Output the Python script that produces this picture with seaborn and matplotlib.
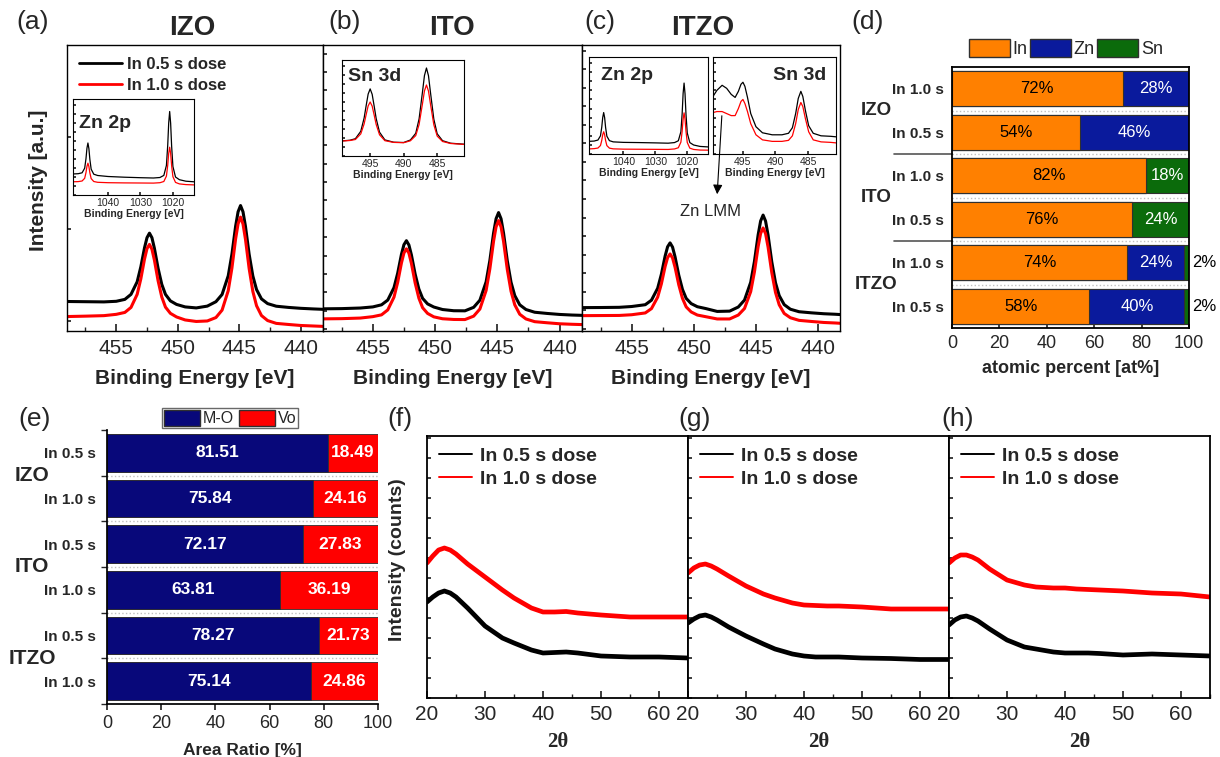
import numpy as np
import matplotlib
matplotlib.use("Agg")
import matplotlib.pyplot as plt
import matplotlib.transforms as mtransforms
from matplotlib.lines import Line2D
from matplotlib.patches import Patch
from matplotlib.ticker import MultipleLocator, NullFormatter, FixedLocator
import seaborn as sns


# XPS In 3d (a-c)

be_main = [459.0, 457.5, 456.0, 455.0, 454.3, 453.8, 453.3, 453.0, 452.7, 452.5,
           452.3, 452.1, 451.9, 451.6, 451.3, 451.0, 450.6, 450.1, 449.4, 448.5,
           447.6, 446.9, 446.4, 445.9, 445.6, 445.3, 445.1, 444.9, 444.7, 444.5,
           444.2, 443.9, 443.6, 443.2, 442.7, 442.0, 441.0, 440.0, 439.0, 438.2]
izo_05 = [27.4, 27.2, 27.0, 27.6, 29.5, 34.5, 47.0, 62.0, 81.0, 91.0,
          95.5, 91.0, 80.5, 60.5, 44.5, 34.5, 28.0, 24.5, 22.0, 21.0,
          22.8, 27.2, 34.4, 53.0, 74.6, 102.4, 116.8, 123.0, 116.8, 102.3,
          74.4, 52.8, 39.3, 30.0, 25.3, 22.7, 21.5, 20.6, 20.0, 19.6]
izo_10 = [12.4, 12.8, 13.3, 14.6, 16.5, 21.5, 34.5, 50.0, 69.8, 80.1,
          84.3, 79.5, 68.7, 48.1, 31.9, 21.8, 15.6, 12.0, 9.0, 7.5,
          8.0, 11.4, 18.8, 38.2, 60.7, 89.8, 104.8, 111.5, 104.6, 89.4,
          60.1, 37.4, 23.2, 13.4, 8.4, 5.6, 4.5, 3.5, 3.0, 2.6]
ito_05 = [20.1, 20.3, 20.9, 22.0, 24.1, 28.8, 41.2, 55.7, 74.4, 84.0,
          88.0, 83.7, 73.8, 54.7, 39.8, 30.5, 25.0, 21.9, 19.4, 18.2,
          18.1, 21.6, 28.7, 47.0, 68.3, 95.7, 109.9, 116.0, 109.8, 95.5,
          68.0, 46.6, 33.3, 24.1, 19.4, 16.7, 15.5, 14.5, 13.9, 13.6]
ito_10 = [10.1, 10.3, 10.9, 12.3, 14.1, 19.0, 31.7, 46.6, 65.8, 75.7,
          79.9, 75.5, 65.4, 45.9, 30.7, 21.2, 15.5, 12.1, 10.2, 9.5,
          9.4, 12.8, 19.9, 38.4, 59.9, 87.6, 101.9, 108.0, 101.7, 87.2,
          59.3, 37.6, 24.1, 14.7, 10.0, 7.3, 6.2, 5.2, 4.7, 4.4]

be_itzo = [459.0, 457.5, 456.0, 455.0, 453.9, 453.4, 452.9, 452.6, 452.3, 452.1,
           451.9, 451.7, 451.5, 451.2, 450.9, 450.6, 450.2, 449.7, 449.0, 448.1,
           447.1, 446.4, 445.9, 445.4, 445.1, 444.8, 444.6, 444.4, 444.2, 444.0,
           443.7, 443.4, 443.1, 442.7, 442.2, 441.5, 440.5, 439.5, 438.6, 438.2]
itzo_05 = [21.3, 21.4, 21.6, 22.4, 24.2, 28.7, 40.6, 54.6, 72.6, 81.9,
           85.8, 81.6, 72.0, 53.7, 39.4, 30.5, 25.3, 22.2, 20.3, 17.5,
           17.8, 21.9, 28.8, 46.5, 67.2, 93.8, 107.6, 113.5, 107.5, 93.6,
           66.9, 46.1, 33.2, 24.3, 19.7, 17.2, 16.1, 15.2, 14.7, 14.4]
itzo_10 = [13.3, 13.4, 13.5, 14.2, 16.0, 20.3, 31.7, 45.0, 62.2, 71.1,
           74.8, 70.8, 61.6, 44.1, 30.5, 22.0, 17.0, 13.9, 12.2, 10.0,
           10.0, 13.9, 20.4, 37.2, 56.8, 82.1, 95.2, 100.7, 95.0, 81.7,
           56.2, 36.4, 24.1, 15.5, 11.2, 8.6, 7.5, 6.5, 6.0, 5.7]

# insets: Zn 2p / Sn 3d

be_zn = [1051.0, 1049.2, 1048.0, 1047.2, 1046.8, 1046.5, 1046.2, 1045.9, 1045.6, 1045.2,
         1044.4, 1043.2, 1040.0, 1035.0, 1030.0, 1026.0, 1024.0, 1022.8, 1022.0, 1021.6,
         1021.3, 1021.0, 1020.7, 1020.4, 1020.0, 1019.2, 1018.0, 1016.0, 1013.5]
zn_izo_05 = [21.0, 21.3, 22.2, 26.8, 36.3, 46.8, 52.0, 46.4, 35.6, 25.8,
             20.8, 19.5, 18.5, 17.8, 17.3, 17.0, 17.5, 19.6, 29.6, 49.8,
             72.0, 83.5, 71.7, 49.1, 28.5, 18.0, 15.3, 13.8, 13.2]
zn_izo_10 = [13.2, 13.4, 14.0, 16.7, 22.4, 28.6, 31.8, 28.5, 22.2, 16.4,
             13.5, 12.7, 12.3, 12.1, 12.0, 11.9, 12.3, 13.5, 18.9, 29.8,
             41.7, 47.8, 41.5, 29.4, 18.3, 12.6, 11.1, 10.4, 10.1]
zn_itzo_05 = [12.5, 12.8, 13.8, 18.0, 26.6, 36.1, 41.0, 36.0, 26.3, 17.6,
              13.2, 12.0, 11.5, 11.3, 11.0, 10.7, 11.3, 13.1, 22.0, 40.1,
              60.0, 70.2, 59.6, 39.3, 20.8, 11.3, 8.9, 7.5, 7.0]
zn_itzo_10 = [5.0, 5.3, 5.9, 8.4, 13.5, 19.1, 22.0, 19.1, 13.4, 8.3,
              5.8, 5.1, 4.8, 4.7, 4.6, 4.5, 5.0, 6.2, 11.7, 22.6,
              34.6, 40.7, 34.5, 22.4, 11.4, 5.8, 4.5, 3.9, 3.8]

be_sn = [499.2, 498.0, 497.2, 496.4, 495.9, 495.6, 495.3, 495.0, 494.7, 494.4,
         494.1, 493.6, 492.8, 491.5, 490.0, 489.0, 488.2, 487.7, 487.2, 486.9,
         486.6, 486.3, 486.0, 485.5, 485.0, 484.2, 483.0, 481.0]
sn_ito_05 = [15.1, 15.8, 17.3, 24.7, 38.0, 50.2, 61.9, 67.1, 61.7, 49.8,
             37.4, 23.8, 16.1, 13.8, 13.5, 16.0, 22.7, 37.1, 63.7, 80.4,
             88.0, 80.3, 63.5, 36.8, 22.2, 15.3, 12.8, 11.8]
sn_ito_10 = [15.0, 15.5, 16.5, 22.1, 32.1, 41.3, 50.1, 54.0, 49.9, 40.9,
             31.5, 21.2, 15.3, 13.6, 13.3, 15.2, 20.4, 31.5, 52.1, 65.1,
             71.0, 65.0, 51.9, 31.2, 19.9, 14.5, 12.5, 11.6]

be_sn_itzo = [499.6, 499.0, 498.2, 497.5, 496.8, 496.2, 495.7, 495.3, 495.0, 494.7,
              494.3, 493.8, 493.0, 492.0, 490.5, 489.0, 488.0, 487.4, 486.9, 486.5,
              486.1, 485.8, 485.4, 484.9, 484.2, 483.0, 481.5, 480.7]
sn_itzo_05 = [57, 63, 68, 65, 59, 56, 62, 69, 71, 67,
              56, 40, 27, 21, 19, 19, 20.5, 26, 40, 55,
              62, 57, 43, 28, 20.5, 18, 17.5, 17]
sn_itzo_10 = [41, 42, 42, 40, 38, 38, 45, 52, 54, 50,
              42, 30, 19, 14, 12.5, 12.5, 13.5, 18, 30, 44,
              51, 47, 35, 22, 14, 12, 11.5, 11]

zn_ticks = [1040, 1030, 1020]
sn_ticks = [495, 490, 485]

# (d) composizione atomica

rows_d = ["IZO 1.0", "IZO 0.5", "ITO 1.0", "ITO 0.5", "ITZO 1.0", "ITZO 0.5"]
dose_d = ["In 1.0 s", "In 0.5 s", "In 1.0 s", "In 0.5 s", "In 1.0 s", "In 0.5 s"]
in_d = [72, 54, 82, 76, 74, 58]
zn_d = [28, 46, 0, 0, 24, 40]
sn_d = [0, 0, 18, 24, 2, 2]

# (e) M-O / Vo

rows_e = ["IZO 0.5", "IZO 1.0", "ITO 0.5", "ITO 1.0", "ITZO 0.5", "ITZO 1.0"]
dose_e = ["In 0.5 s", "In 1.0 s", "In 0.5 s", "In 1.0 s", "In 0.5 s", "In 1.0 s"]
mo_e = [81.51, 75.84, 72.17, 63.81, 78.27, 75.14]
vo_e = [18.49, 24.16, 27.83, 36.19, 21.73, 24.86]

groups = ["IZO", "ITO", "ITZO"]

# (f-h) XRD

two_theta = [20, 21, 22, 23, 24, 25, 27, 30, 33, 35, 38, 40, 42, 44, 46, 50, 55, 60, 65]
xrd_izo_05 = [96, 101, 105, 107, 105, 101, 90, 72, 60, 55, 48, 45, 45.5, 46, 45, 42, 41, 41, 40]
xrd_izo_10 = [135, 142, 148, 150, 148, 144, 134, 121, 108, 100, 90, 86, 86, 86.5, 85, 83, 81, 81, 81]
xrd_ito_05 = [75, 79, 82, 83, 81, 78, 71, 62, 54, 49, 44, 42, 41, 41, 41, 40, 39.5, 38.5, 38.5]
xrd_ito_10 = [125, 130, 133, 134, 132, 129, 122, 112, 104, 100, 95, 93, 92.5, 92, 92, 91, 89, 89, 89]
xrd_itzo_05 = [73, 78, 81, 82, 80, 77, 69, 58, 51, 49, 46, 45, 45, 45, 44.5, 43, 44, 43, 42]
xrd_itzo_10 = [135, 140, 143, 143, 141, 138, 129, 118, 113, 111, 110, 110, 109, 108.5, 108, 107, 105, 104, 101]

dose_labels = ["In 0.5 s dose", "In 1.0 s dose"]


sns.set_theme(style="ticks")
plt.rcParams["font.family"] = ["Liberation Sans", "DejaVu Sans"]

W, H = 1220, 757
C_IN, C_ZN, C_SN = "#ff8000", "#0a1a9c", "#0b6b0b"
C_MO, C_VO = "#08087a", "#ff0000"

fig = plt.figure(figsize=(W / 100, H / 100), dpi=100)


def box(l, t, r, b):
    return [l / W, 1 - b / H, (r - l) / W, (b - t) / H]


def fig_text(x, y, s, **kw):
    fig.text(x / W, 1 - y / H, s, ha="center", va="center", **kw)


def style_frame(ax, lw=1.0):
    for sp in ax.spines.values():
        sp.set_visible(True)
        sp.set_linewidth(lw)
        sp.set_color("black")


# pannelli XPS

def xps_panel(rect, be, y05, y10):
    ax = fig.add_axes(box(*rect))
    sns.lineplot(x=be, y=y05, color="black", lw=2.2, ax=ax)
    sns.lineplot(x=be, y=y10, color="red", lw=2.2, ax=ax)
    ax.set_xlim(459, 438.2)
    ax.set_ylim(-2, 283)
    ax.xaxis.set_major_locator(MultipleLocator(5))
    ax.xaxis.set_minor_locator(MultipleLocator(2.5))
    ax.tick_params(axis="x", which="major", direction="in", length=5, labelsize=15, pad=6)
    ax.tick_params(axis="x", which="minor", direction="in", length=3)
    ax.tick_params(axis="y", which="both", direction="in", length=3, labelleft=False)
    ax.set_xlabel("Binding Energy [eV]", fontsize=15, fontweight="bold", labelpad=8)
    ax.set_ylabel("")
    style_frame(ax)
    return ax


ax_a = xps_panel((67, 45, 323, 331), be_main, izo_05, izo_10)
ax_a.set_yticks([8, 100, 191])
ax_a.legend(
    [Line2D([], [], color="black", lw=2), Line2D([], [], color="red", lw=2)],
    dose_labels,
    loc="upper left", bbox_to_anchor=(0.0, 1.0), frameon=False,
    prop=dict(weight="bold", size=12), handlelength=2.6, handletextpad=0.3,
    labelspacing=0.35, borderaxespad=0.3
)

ax_b = xps_panel((323, 45, 582, 331), be_main, ito_05, ito_10)
ax_b.yaxis.set_major_locator(MultipleLocator(18.3))

ax_c = xps_panel((582, 45, 840, 331), be_itzo, itzo_05, itzo_10)
ax_c.yaxis.set_major_locator(MultipleLocator(18.5))

fig_text(38, 180, "Intensity [a.u.]", rotation=90, fontsize=15, fontweight="bold")
for x, s in [(192, "IZO"), (452, "ITO"), (703, "ITZO")]:
    fig_text(x, 28, s, fontsize=20, fontweight="bold")


def inset(rect, be, y05, y10, xlim, ticks, name, name_x, name_y, ha="left"):
    ax = fig.add_axes(box(*rect))
    ax.set_facecolor("white")
    sns.lineplot(x=be, y=y05, color="black", lw=0.9, ax=ax)
    sns.lineplot(x=be, y=y10, color="red", lw=0.9, ax=ax)
    ax.set_xlim(*xlim)
    ax.set_ylim(0, 96)
    ax.xaxis.set_major_locator(FixedLocator(ticks))
    ax.yaxis.set_major_locator(MultipleLocator(9))
    ax.tick_params(axis="x", which="both", direction="in", length=2, labelsize=7.5, pad=2)
    ax.tick_params(axis="y", direction="in", length=2, labelleft=False)
    ax.set_xlabel("Binding Energy [eV]", fontsize=7.5, fontweight="bold", labelpad=1)
    ax.set_ylabel("")
    style_frame(ax, 0.8)
    ax.text(name_x, name_y, name, transform=ax.transAxes, ha=ha, va="center",
            fontsize=14, fontweight="bold")
    return ax


inset((73, 99, 194, 195), be_zn, zn_izo_05, zn_izo_10, (1050.8, 1013.5), zn_ticks,
      "Zn 2p", 0.05, 0.75)
inset((342, 60, 464, 156), be_sn, sn_ito_05, sn_ito_10, (499.2, 481.0), sn_ticks,
      "Sn 3d", 0.05, 0.83)
inset((589, 57, 708, 154), be_zn, zn_itzo_05, zn_itzo_10, (1050.8, 1013.5), zn_ticks,
      "Zn 2p", 0.10, 0.81)
ax_csn = inset((713, 57, 836, 154), be_sn_itzo, sn_itzo_05, sn_itzo_10, (499.6, 480.7),
               sn_ticks, "Sn 3d", 0.92, 0.81, ha="right")

ax_csn.annotate(
    "", xy=(717 / W, 1 - 197 / H), xytext=(722 / W, 1 - 113 / H),
    xycoords="figure fraction", textcoords="figure fraction",
    arrowprops=dict(arrowstyle="-|>", color="black", lw=0.8, mutation_scale=14),
    annotation_clip=False
)
fig_text(710, 212, "Zn LMM", fontsize=12)


# (d) barre impilate

ax_d = fig.add_axes(box(952, 67, 1189, 328))
sns.barplot(x=np.add(np.add(in_d, zn_d), sn_d), y=rows_d, orient="h", color=C_SN,
            saturation=1, width=0.8, edgecolor="#303030", linewidth=0.8, ax=ax_d)
sns.barplot(x=np.add(in_d, zn_d), y=rows_d, orient="h", color=C_ZN,
            saturation=1, width=0.8, edgecolor="#303030", linewidth=0.8, ax=ax_d)
sns.barplot(x=in_d, y=rows_d, orient="h", color=C_IN,
            saturation=1, width=0.8, edgecolor="#303030", linewidth=0.8, ax=ax_d)
ax_d.set_xlim(0, 100)
ax_d.set_ylim(5.5, -0.5)
ax_d.set_yticks(range(len(rows_d)))
ax_d.set_yticklabels(dose_d, fontsize=11, fontweight="bold")
ax_d.set_xticks([0, 20, 40, 60, 80, 100])
ax_d.tick_params(axis="x", direction="in", length=3, labelsize=13, pad=5)
ax_d.tick_params(axis="y", length=0, pad=6)
ax_d.set_xlabel("atomic percent [at%]", fontsize=13, fontweight="bold", labelpad=6)
ax_d.set_ylabel("")
style_frame(ax_d, 1.3)
for y in np.arange(0.5, 5, 1):
    ax_d.axhline(y, color="#c0c0c0", ls=":", lw=1)

for i in range(len(rows_d)):
    ax_d.text(in_d[i] / 2, i, f"{in_d[i]}%", ha="center", va="center", fontsize=12, color="black")
    if zn_d[i] > 0:
        ax_d.text(in_d[i] + zn_d[i] / 2, i, f"{zn_d[i]}%", ha="center", va="center",
                  fontsize=12, color="white")
    if sn_d[i] >= 10:
        ax_d.text(in_d[i] + zn_d[i] + sn_d[i] / 2, i, f"{sn_d[i]}%", ha="center", va="center",
                  fontsize=12, color="white")
    elif sn_d[i] > 0:
        ax_d.text(101.5, i, f"{sn_d[i]}%", ha="left", va="center", fontsize=12,
                  color="black", clip_on=False)

trans_d = mtransforms.blended_transform_factory(ax_d.transAxes, ax_d.transData)
for k, g in enumerate(groups):
    ax_d.text(-0.32, 2 * k + 0.5, g, transform=trans_d, ha="center", va="center",
              fontsize=13.5, fontweight="bold")
for y in [1.5, 3.5]:
    ax_d.plot([-0.245, 0], [y, y], transform=trans_d, color="#555555", lw=1.2, clip_on=False)

ax_d.legend(
    [Patch(facecolor=c, edgecolor="#303030") for c in (C_IN, C_ZN, C_SN)],
    ["In", "Zn", "Sn"], ncol=3, loc="lower center", bbox_to_anchor=(0.48, 1.0),
    frameon=False, fontsize=13, handlelength=2.3, handleheight=1.1,
    handletextpad=0.15, columnspacing=0.1, borderaxespad=0.1
)


# (e) area ratio

ax_e = fig.add_axes(box(107, 430, 378, 704))
sns.barplot(x=np.add(mo_e, vo_e), y=rows_e, orient="h", color=C_VO, saturation=1,
            width=0.82, edgecolor="#303030", linewidth=0.6, ax=ax_e)
sns.barplot(x=mo_e, y=rows_e, orient="h", color=C_MO, saturation=1,
            width=0.82, edgecolor="#303030", linewidth=0.6, ax=ax_e)
ax_e.set_xlim(0, 100)
ax_e.set_ylim(5.5, -0.5)
ax_e.set_yticks(range(len(rows_e)))
ax_e.set_yticklabels(dose_e, fontsize=11, fontweight="bold")
ax_e.set_yticks(np.arange(-0.5, 6, 1), minor=True)
ax_e.yaxis.set_minor_formatter(NullFormatter())
ax_e.tick_params(axis="y", which="major", length=0, pad=8)
ax_e.tick_params(axis="y", which="minor", length=4, direction="out")
ax_e.set_xticks([0, 20, 40, 60, 80, 100])
ax_e.tick_params(axis="x", direction="out", length=4, labelsize=13, pad=4)
ax_e.set_xlabel("Area Ratio [%]", fontsize=12.5, fontweight="bold", labelpad=8)
ax_e.set_ylabel("")
sns.despine(ax=ax_e)
for sp in ("left", "bottom"):
    ax_e.spines[sp].set_color("black")
for y in np.arange(0.5, 5, 1):
    ax_e.axhline(y, color="#c0c0c0", ls=":", lw=1)
for i in range(len(rows_e)):
    ax_e.text(mo_e[i] / 2, i, f"{mo_e[i]:.2f}", ha="center", va="center",
              fontsize=12.5, fontweight="bold", color="white")
    ax_e.text(mo_e[i] + vo_e[i] / 2, i, f"{vo_e[i]:.2f}", ha="center", va="center",
              fontsize=12.5, fontweight="bold", color="white")

trans_e = mtransforms.blended_transform_factory(ax_e.transAxes, ax_e.transData)
for k, g in enumerate(groups):
    ax_e.text(-0.277, 2 * k + 0.5, g, transform=trans_e, ha="center", va="center",
              fontsize=15, fontweight="bold")

ax_e.legend(
    [Patch(facecolor=C_MO, edgecolor="#303030"), Patch(facecolor=C_VO, edgecolor="#303030")],
    ["M-O", "Vo"], ncol=2, loc="lower center", bbox_to_anchor=(0.454, 1.0),
    frameon=True, fancybox=False, edgecolor="#444444", fontsize=11.5,
    handlelength=2.3, handleheight=1.25, handletextpad=0.15, columnspacing=0.3,
    borderpad=0.12, borderaxespad=0.1
)


# pannelli XRD

def xrd_panel(rect, y05, y10):
    ax = fig.add_axes(box(*rect))
    sns.lineplot(x=two_theta, y=y05, color="black", lw=3.4, ax=ax)
    sns.lineplot(x=two_theta, y=y10, color="red", lw=3.4, ax=ax)
    ax.set_xlim(20, 65)
    ax.set_ylim(0, 262)
    ax.xaxis.set_major_locator(MultipleLocator(10))
    ax.xaxis.set_minor_locator(MultipleLocator(5))
    ax.yaxis.set_major_locator(MultipleLocator(20))
    ax.tick_params(axis="x", which="major", direction="in", length=5, labelsize=15, pad=5)
    ax.tick_params(axis="x", which="minor", direction="in", length=3)
    ax.tick_params(axis="y", direction="in", length=3, labelleft=False)
    ax.set_xlabel("2θ", fontsize=15, fontweight="bold", family=["Liberation Serif"], labelpad=6)
    ax.set_ylabel("")
    style_frame(ax, 1.3)
    ax.legend(
        [Line2D([], [], color="black", lw=1.4), Line2D([], [], color="red", lw=1.4)],
        dose_labels, loc="upper left", frameon=False,
        prop=dict(weight="bold", size=14), handlelength=1.7, handletextpad=0.4,
        labelspacing=0.25, borderaxespad=0.2
    )
    return ax


xrd_panel((427, 436, 688, 698), xrd_izo_05, xrd_izo_10)
xrd_panel((688, 436, 949, 698), xrd_ito_05, xrd_ito_10)
xrd_panel((949, 436, 1210, 698), xrd_itzo_05, xrd_itzo_10)
fig_text(398, 560, "Intensity (counts)", rotation=90, fontsize=14, fontweight="bold")


# etichette dei pannelli

for x, y, s in [(33, 22, "(a)"), (345, 22, "(b)"), (600, 22, "(c)"), (868, 22, "(d)"),
                (35, 419, "(e)"), (400, 419, "(f)"), (695, 419, "(g)"), (958, 419, "(h)")]:
    fig_text(x, y, s, fontsize=19)

fig.savefig("out.png", dpi=100)
